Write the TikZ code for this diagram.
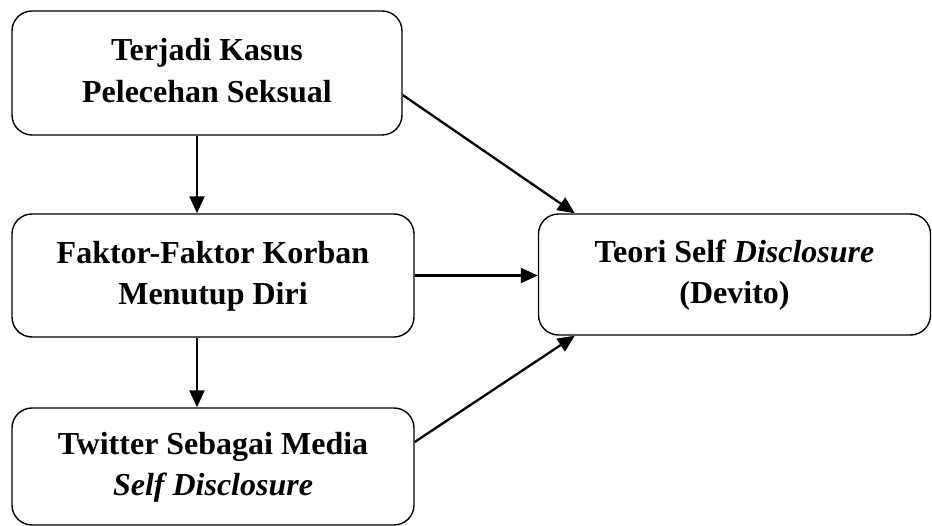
\documentclass[tikz,border=0pt]{standalone}
\usepackage{fontspec}
\setmainfont{Liberation Serif}
\usetikzlibrary{arrows.meta}
\begin{document}
\begin{tikzpicture}[x=1pt,y=-1pt,
  box/.style={draw=black, line width=1.4pt, rounded corners=20pt, rectangle, inner sep=0pt,
    align=center, font=\fontsize{32}{41.5}\selectfont\bfseries},
  arr/.style={line width=2.3pt, -{Triangle[length=17pt,width=15pt]}}]
\useasboundingbox (0,0) rectangle (932,526);
\node[box, minimum width=390pt, minimum height=124pt] (b1) at (207,73)
  {\strut Terjadi Kasus\\\strut Pelecehan Seksual};
\node[box, minimum width=402pt, minimum height=123pt] (b2) at (213,275.5)
  {\strut Faktor-Faktor Korban\\\strut Menutup Diri};
\node[box, minimum width=402pt, minimum height=117pt] (b3) at (213,466.5)
  {\strut Twitter Sebagai Media\\\strut\textit{Self Disclosure}};
\node[box, minimum width=392pt, minimum height=121pt] (b4) at (734.5,274.5)
  {\strut Teori Self \textit{Disclosure}\\\strut (Devito)};
\coordinate (ax) at (197,0);
\draw[arr] (b1.south -| ax) -- (b2.north -| ax);
\draw[arr] (b2.south -| ax) -- (b3.north -| ax);
\draw[arr] ([yshift=-22pt]b1.east) -- ([xshift=37pt]b4.north west);
\draw[arr] (b2.east) -- (b4.west |- b2.east);
\draw[arr] ([yshift=24.5pt]b3.east) -- ([xshift=37pt]b4.south west);
\end{tikzpicture}
\end{document}
